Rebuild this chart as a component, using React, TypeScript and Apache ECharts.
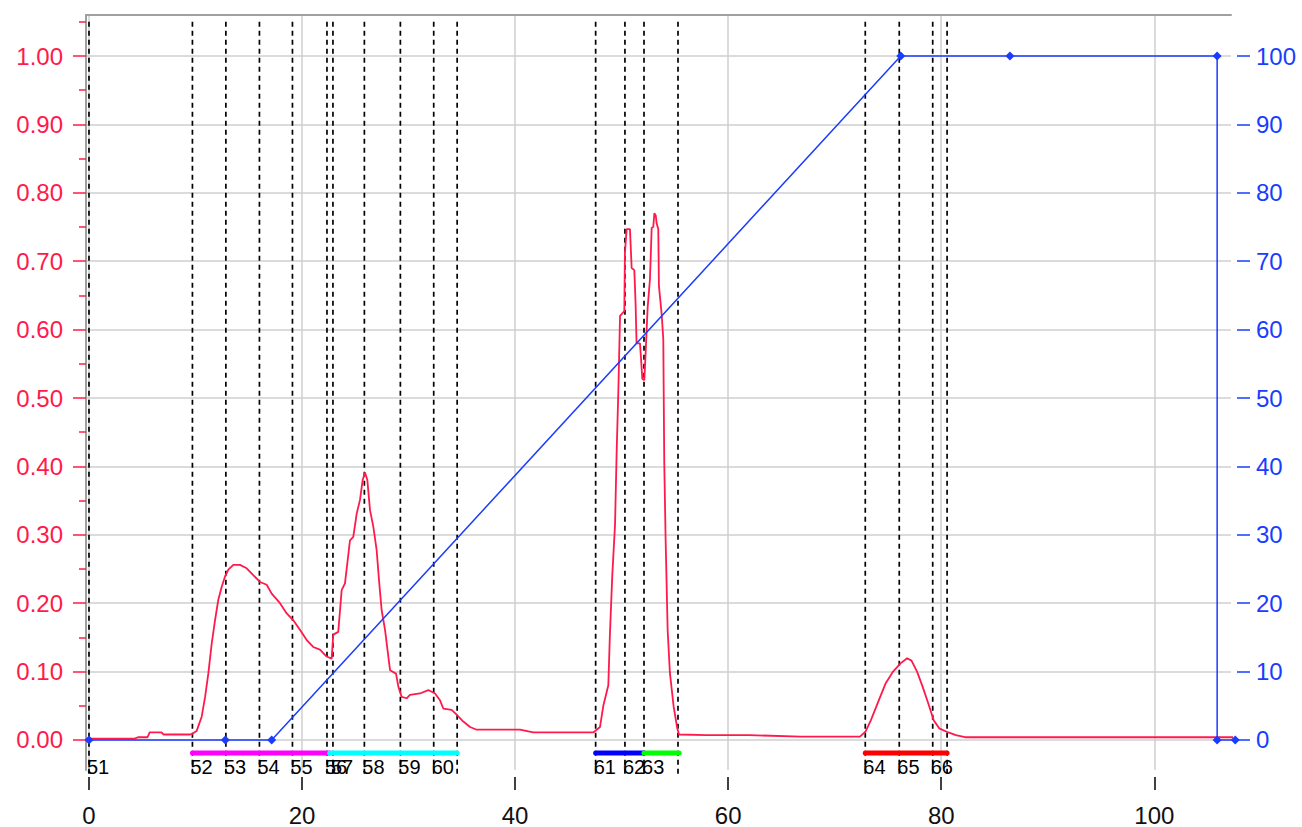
import React, { useEffect, useRef } from 'react';
import * as echarts from 'echarts';

// ---------- data ----------
const xTickValues = [0, 20, 40, 60, 80, 100];
const leftLabelValues = [0, 0.1, 0.2, 0.3, 0.4, 0.5, 0.6, 0.7, 0.8, 0.9, 1.0];
const leftMinorTickValues = [0.05, 0.15, 0.25, 0.35, 0.45, 0.55, 0.65, 0.75, 0.85, 0.95, 1.05];
const rightLabelValues = [0, 10, 20, 30, 40, 50, 60, 70, 80, 90, 100];

// UV absorbance trace (left axis)
const uvTrace: [number, number][] = [
  [-0.3, 0.002], [4.3, 0.002], [4.6, 0.004], [5.5, 0.004], [5.7, 0.011], [6.8, 0.011],
  [7.0, 0.008], [9.5, 0.008], [9.7, 0.009], [10.1, 0.013], [10.58, 0.034], [10.9, 0.063],
  [11.2, 0.097], [11.52, 0.141], [11.83, 0.175], [12.14, 0.205], [12.46, 0.224], [12.77, 0.239],
  [13.08, 0.249], [13.55, 0.256], [14.17, 0.256], [14.8, 0.251], [15.42, 0.241], [16.05, 0.231],
  [16.68, 0.227], [17.15, 0.214], [17.93, 0.2], [18.56, 0.185], [19.18, 0.175], [19.8, 0.161],
  [20.44, 0.146], [21.05, 0.136], [21.68, 0.132], [22.31, 0.122], [22.78, 0.119], [22.93, 0.154],
  [23.4, 0.158], [23.72, 0.219], [24.03, 0.229], [24.5, 0.292], [24.81, 0.297], [25.13, 0.331],
  [25.44, 0.351], [25.69, 0.38], [25.91, 0.391], [26.13, 0.38], [26.38, 0.336], [26.69, 0.312],
  [27.0, 0.278], [27.25, 0.229], [27.47, 0.19], [27.79, 0.161], [28.1, 0.122], [28.26, 0.102],
  [28.82, 0.097], [29.04, 0.078], [29.35, 0.063], [29.82, 0.061], [30.13, 0.066], [31.07, 0.068],
  [31.85, 0.073], [32.48, 0.068], [32.95, 0.058], [33.26, 0.046], [34.04, 0.044], [34.51, 0.037],
  [35.14, 0.027], [35.77, 0.019], [36.39, 0.015], [40.46, 0.015], [41.7, 0.011], [47.34, 0.011],
  [47.97, 0.019], [48.28, 0.05], [48.75, 0.08], [48.9, 0.155], [49.12, 0.24], [49.38, 0.315],
  [49.53, 0.42], [49.69, 0.51], [49.85, 0.62], [50.25, 0.627], [50.31, 0.713], [50.47, 0.747],
  [50.78, 0.747], [50.94, 0.69], [51.19, 0.687], [51.31, 0.638], [51.4, 0.58], [51.72, 0.58],
  [51.81, 0.56], [51.94, 0.528], [52.13, 0.526], [52.25, 0.565], [52.44, 0.632], [52.66, 0.674],
  [52.82, 0.749], [52.97, 0.75], [53.07, 0.77], [53.2, 0.767], [53.29, 0.755], [53.44, 0.747],
  [53.5, 0.664], [53.76, 0.622], [53.91, 0.586], [54.0, 0.406], [54.13, 0.292], [54.32, 0.16],
  [54.53, 0.098], [54.88, 0.049], [55.22, 0.017], [55.39, 0.008], [58.0, 0.007], [62.0, 0.007],
  [66.8, 0.005], [72.37, 0.005], [72.88, 0.012], [73.4, 0.029], [74.09, 0.056], [74.79, 0.083],
  [75.48, 0.1], [76.18, 0.112], [76.8, 0.1195], [77.21, 0.116], [77.73, 0.1], [78.25, 0.078],
  [78.77, 0.054], [79.29, 0.029], [79.81, 0.017], [80.67, 0.011], [81.37, 0.007], [82.23, 0.004],
  [107.4, 0.004],
];

// gradient %B (right axis)
const gradientPoints: [number, number][] = [
  [0, 0], [12.8, 0], [17.15, 0], [76.2, 100], [86.45, 100], [105.9, 100], [105.9, 0], [107.6, 0],
];

// fraction marks
const fractionStarts = [0, 9.71, 12.85, 16.0, 19.1, 22.34, 22.9, 25.85, 29.23, 32.36, 47.56, 50.31, 52.1, 72.87, 76.06, 79.2];
const fractionLabels = ['51', '52', '53', '54', '55', '56', '57', '58', '59', '60', '61', '62', '63', '64', '65', '66'];
const fractionEnds = [34.56, 55.29, 80.55];

// pooled fraction bars
const poolStarts = [9.71, 22.6, 47.56, 52.1, 72.87];
const poolEnds = [22.6, 34.56, 52.1, 55.4, 80.55];

// ---------- styles ----------
const POOL_COLORS = ['#ff00ff', '#00ffff', '#0000ff', '#00ff00', '#ff0000'];
const RED = '#ff1a4b';
const BLUE = '#1a3cff';
const GRID_GRAY = '#cfcfcf';
const AXIS_GRAY = '#a0a0a0';
const FONT = '"Liberation Sans", Arial, sans-serif';

const X_MIN = -0.28;
const X_MAX = 107.2;
const L_MIN = -0.0439;
const L_MAX = 1.06;
const R_MIN = -4.39;
const R_MAX = 106;
const LINE_TOP = 1.05;
const LINE_BOTTOM = -0.055;
const LABEL_Y = -0.04;
const BAR_Y = -0.019;

export default function App() {
  const ref = useRef<HTMLDivElement>(null);

  useEffect(() => {
    if (!ref.current) return;
    const chart = echarts.init(ref.current, undefined, { renderer: 'svg' });

    const fractionData = [
      ...fractionStarts.map((x, i) => [x, i]),
      ...fractionEnds.map((x) => [x, -1]),
    ];
    const poolData = poolStarts.map((s, i) => [s, poolEnds[i], i]);

    const option: any = {
      animation: false,
      backgroundColor: '#ffffff',
      grid: {
        left: 86,
        top: 15,
        right: 1302 - 1231,
        bottom: 827 - 770,
        outerBoundsMode: 'none',
        containLabel: false,
      },
      xAxis: [
        {
          type: 'value',
          min: X_MIN,
          max: X_MAX,
          position: 'bottom',
          offset: 7,
          axisLine: { show: false, onZero: false },
          axisTick: {
            show: true,
            customValues: xTickValues,
            length: 13,
            lineStyle: { color: '#000', width: 1.5 },
          },
          axisLabel: {
            customValues: xTickValues,
            color: '#111',
            fontSize: 24,
            fontFamily: FONT,
            margin: 26,
          },
          splitLine: { show: true, lineStyle: { color: GRID_GRAY, width: 1.5 } },
        },
        {
          type: 'value',
          min: X_MIN,
          max: X_MAX,
          position: 'top',
          axisLine: { show: true, onZero: false, lineStyle: { color: AXIS_GRAY, width: 2 } },
          axisTick: { show: false },
          axisLabel: { show: false },
          splitLine: { show: false },
        },
      ],
      yAxis: [
        {
          type: 'value',
          min: L_MIN,
          max: L_MAX,
          position: 'left',
          axisLine: { show: true, onZero: false, lineStyle: { color: AXIS_GRAY, width: 2 } },
          axisTick: {
            show: true,
            customValues: leftLabelValues,
            length: 13,
            lineStyle: { color: RED, width: 1.5 },
          },
          axisLabel: {
            customValues: leftLabelValues,
            formatter: (v: number) => v.toFixed(2),
            color: RED,
            fontSize: 24,
            fontFamily: FONT,
            margin: 23,
          },
          splitLine: { show: false },
        },
        {
          type: 'value',
          min: R_MIN,
          max: R_MAX,
          position: 'right',
          offset: 6,
          axisLine: { show: false, onZero: false },
          axisTick: {
            show: true,
            customValues: rightLabelValues,
            length: 13,
            lineStyle: { color: BLUE, width: 1.5 },
          },
          axisLabel: {
            customValues: rightLabelValues,
            color: BLUE,
            fontSize: 24,
            fontFamily: FONT,
            margin: 19,
          },
          splitLine: { show: true, lineStyle: { color: GRID_GRAY, width: 1.5 } },
        },
        {
          type: 'value',
          min: L_MIN,
          max: L_MAX,
          position: 'left',
          axisLine: { show: false, onZero: false },
          axisTick: {
            show: true,
            customValues: leftMinorTickValues,
            length: 7,
            lineStyle: { color: RED, width: 1.5 },
          },
          axisLabel: { show: false },
          splitLine: { show: false },
        },
      ],
      series: [
        {
          type: 'custom',
          name: 'fractions',
          xAxisIndex: 0,
          yAxisIndex: 0,
          clip: false,
          z: 2,
          silent: true,
          data: fractionData,
          renderItem: (params: any, api: any) => {
            const x = api.value(0);
            const idx = api.value(1);
            const top = api.coord([x, LINE_TOP]);
            const bot = api.coord([x, LINE_BOTTOM]);
            const children: any[] = [];
            if (idx >= 0) {
              const p = api.coord([x, LABEL_Y]);
              children.push({
                type: 'text',
                x: p[0] - 2,
                y: p[1],
                style: {
                  text: fractionLabels[idx],
                  fill: '#000',
                  font: `20px ${FONT}`,
                  align: 'left',
                  verticalAlign: 'middle',
                },
              });
            }
            children.push({
              type: 'line',
              shape: { x1: top[0], y1: top[1], x2: bot[0], y2: bot[1] },
              style: { stroke: '#000', lineWidth: 1.7, lineDash: [5, 4] },
            });
            return { type: 'group', children };
          },
        },
        {
          type: 'custom',
          name: 'pools',
          xAxisIndex: 0,
          yAxisIndex: 0,
          clip: false,
          z: 4,
          silent: true,
          data: poolData,
          renderItem: (params: any, api: any) => {
            const a = api.coord([api.value(0), BAR_Y]);
            const b = api.coord([api.value(1), BAR_Y]);
            return {
              type: 'line',
              shape: { x1: a[0], y1: a[1], x2: b[0], y2: b[1] },
              style: { stroke: POOL_COLORS[api.value(2)], lineWidth: 5, lineCap: 'round' },
            };
          },
        },
        {
          type: 'line',
          name: 'UV',
          xAxisIndex: 0,
          yAxisIndex: 0,
          data: uvTrace,
          showSymbol: false,
          symbol: 'none',
          clip: false,
          z: 5,
          lineStyle: { color: RED, width: 1.8 },
        },
        {
          type: 'line',
          name: '%B',
          xAxisIndex: 0,
          yAxisIndex: 1,
          data: gradientPoints,
          symbol: 'diamond',
          symbolSize: 9,
          showSymbol: true,
          clip: false,
          z: 6,
          itemStyle: { color: BLUE },
          lineStyle: { color: BLUE, width: 1.5 },
        },
      ],
    };

    chart.setOption(option);
    return () => chart.dispose();
  }, []);

  return (
    <div
      ref={ref}
      style={{ position: 'fixed', left: 0, top: 0, width: 1302, height: 827, background: '#fff' }}
    />
  );
}
